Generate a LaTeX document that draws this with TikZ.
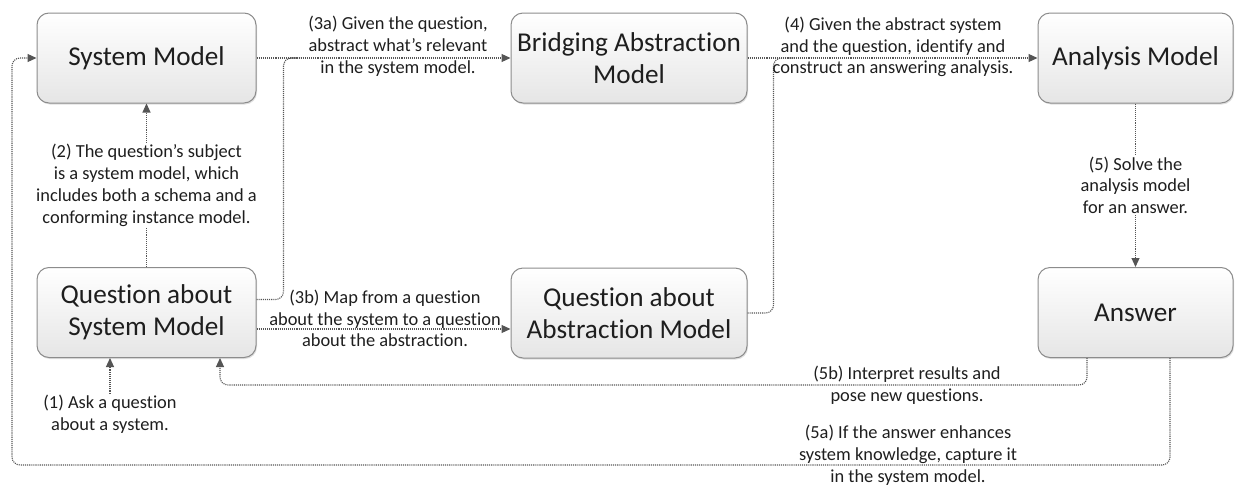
\documentclass[tikz,border=0pt]{standalone}
\usepackage{fontspec}
\setmainfont[Ligatures=NoCommon]{Carlito}
\usetikzlibrary{arrows.meta,shadows,calc}
\definecolor{txt}{HTML}{1E1E1E}
\definecolor{ln}{HTML}{555555}
\definecolor{bord}{HTML}{8C8C8C}
\tikzset{
  box/.style={draw=bord, line width=1pt, rounded corners=12pt, top color=white, bottom color=black!10,
    drop shadow={opacity=0.25, shadow xshift=1pt, shadow yshift=-1.5pt},
    minimum height=90pt, align=center, text=txt, font=\fontsize{27.2}{32}\selectfont, inner sep=0pt},
  lab/.style={align=center, text=txt, font=\fontsize{18.4}{21.8}\selectfont, inner sep=1pt},
  conn/.style={draw=ln, line width=1.1pt, densely dotted, rounded corners=8pt},
  arr/.style={-{Triangle[length=9pt,width=8pt]}},
}
\begin{document}
\begin{tikzpicture}[x=1pt,y=-1pt]
\useasboundingbox (0,0) rectangle (1235,485);
% boxes
\node[box, minimum width=219pt] (sm) at (146.5,58) {System Model};
\node[box, minimum width=219pt] (qsm) at (146.5,312.5) {Question about\\System Model};
\node[box, minimum width=236pt] (bam) at (629,58) {Bridging Abstraction\\Model};
\node[box, minimum width=236pt] (qam) at (629,313) {Question about\\Abstraction Model};
\node[box, minimum width=195pt] (am) at (1135.5,58) {Analysis Model};
\node[box, minimum width=195pt] (ans) at (1135.5,312.5) {Answer};
% coordinates
\coordinate (m1) at (300,58);
\coordinate (m2) at (795,58);
\coordinate (c5b) at (220,385);
\coordinate (c5a) at (12,465);
% connectors
\draw[conn,arr] (sm.east) -- (bam.west);
\draw[conn] ([yshift=13pt]qsm.east) -- ++(27,0) |- (m1);
\draw[conn,arr] ([yshift=-16.5pt]qsm.east) -- ([yshift=-16pt]qam.west);
\draw[conn,arr] (bam.east) -- (am.west);
\draw[conn] (qam.east) -- ++(26,0) |- (m2);
\draw[conn,arr] (am.south) -- node[lab, fill=white, name=l5] {(5) Solve the\\analysis model\\for an answer.} (ans.north);
\draw[conn,arr] (qsm.north) -- node[lab, fill=white, name=l2] {(2) The question’s subject\\is a system model, which\\includes both a schema and a\\conforming instance model.} (sm.south);
\draw[conn,arr] ([xshift=-48.5pt]ans.south) |- (c5b) -- ([xshift=73.5pt]qsm.south);
\draw[conn,arr] ([xshift=34.5pt]ans.south) |- (c5a) |- (sm.west);
% labels
\node[lab] (l3a) at (398,46) {(3a) Given the question,\\abstract what’s relevant\\in the system model.};
\node[lab] (l3b) at (385,318.5) {(3b) Map from a question\\about the system to a question\\about the abstraction.};
\node[lab] (l4) at (893,47) {(4) Given the abstract system\\and the question, identify and\\construct an answering analysis.};
\node[lab] (l1) at (110,414) {(1) Ask a question\\about a system.};
\draw[conn,arr] (l1.north) -- (l1.north |- qsm.south);
\node[lab] (l5b) at (907,385.5) {(5b) Interpret results and\\pose new questions.};
\node[lab] (l5a) at (908,455) {(5a) If the answer enhances\\system knowledge, capture it\\in the system model.};
\end{tikzpicture}
\end{document}
